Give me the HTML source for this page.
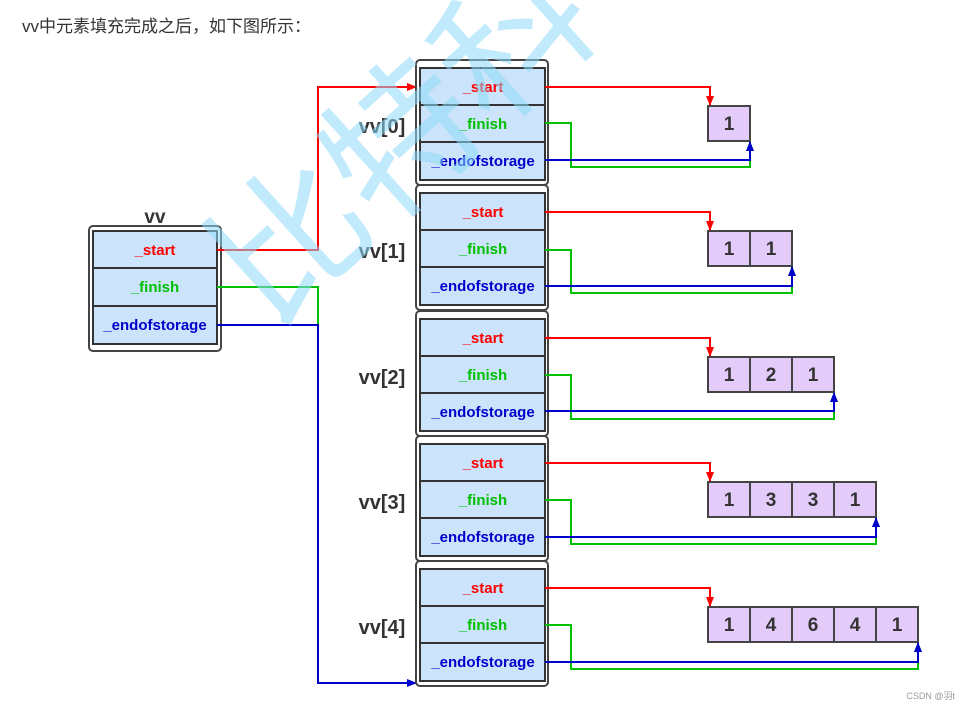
<!DOCTYPE html>
<html><head><meta charset="utf-8"><style>
body{margin:0;background:#fff;width:968px;height:709px;overflow:hidden}
svg{display:block}
text{font-family:"Liberation Sans",sans-serif}
</style></head><body>
<svg width="968" height="709" xmlns="http://www.w3.org/2000/svg">
<defs>
<marker id="ar" markerWidth="10" markerHeight="10" refX="9" refY="5" orient="auto" markerUnits="userSpaceOnUse"><path d="M0,1 L10,5 L0,9 Z" fill="#ff0000"/></marker>
<marker id="ab" markerWidth="10" markerHeight="10" refX="9" refY="5" orient="auto" markerUnits="userSpaceOnUse"><path d="M0,1 L10,5 L0,9 Z" fill="#0000cc"/></marker>
<marker id="ag" markerWidth="10" markerHeight="10" refX="9" refY="5" orient="auto" markerUnits="userSpaceOnUse"><path d="M0,1 L10,5 L0,9 Z" fill="#00c000"/></marker>
</defs>
<text x="22" y="32" font-size="17" fill="#333" style='font-family:"Liberation Sans","Noto Sans CJK SC",sans-serif'>vv中元素填充完成之后，如下图所示：</text>
<!-- vv -->
<text x="155" y="223" font-size="19" font-weight="bold" fill="#333" text-anchor="middle">vv</text>
<rect x="89" y="226" width="132" height="125" rx="4" fill="#fff" stroke="#444" stroke-width="2"/>
<g stroke="#333" stroke-width="2" fill="#cce4fb">
<rect x="93" y="231" width="124" height="37"/><rect x="93" y="268" width="124" height="38"/><rect x="93" y="306" width="124" height="38"/></g>
<g font-size="15" text-anchor="middle" font-weight="bold">
<text x="155" y="255" fill="#ff0000">_start</text>
<text x="155" y="292" fill="#00c000">_finish</text>
<text x="155" y="330" fill="#0000cc">_endofstorage</text></g>
<g fill="none" stroke-width="2">
<polyline points="217,287 318,287 318,683" stroke="#00c000"/>
<polyline points="217,250 318,250 318,87 416,87" stroke="#ff0000" marker-end="url(#ar)"/>
<polyline points="217,325 318,325 318,683 416,683" stroke="#0000cc" marker-end="url(#ab)"/>
</g>

<!-- boxes -->
<g stroke="#444" stroke-width="2" fill="#fff">
<rect x="416" y="60" width="132" height="125" rx="4"/>
<rect x="416" y="185" width="132" height="125" rx="4"/>
<rect x="416" y="311" width="132" height="125" rx="4"/>
<rect x="416" y="436" width="132" height="125" rx="4"/>
<rect x="416" y="561" width="132" height="125" rx="4"/>
</g>
<g stroke="#333" stroke-width="2" fill="#cce4fb">
<rect x="420" y="68" width="125" height="37"/><rect x="420" y="105" width="125" height="37"/><rect x="420" y="142" width="125" height="38"/>
<rect x="420" y="193" width="125" height="37"/><rect x="420" y="230" width="125" height="37"/><rect x="420" y="267" width="125" height="38"/>
<rect x="420" y="319" width="125" height="37"/><rect x="420" y="356" width="125" height="37"/><rect x="420" y="393" width="125" height="38"/>
<rect x="420" y="444" width="125" height="37"/><rect x="420" y="481" width="125" height="37"/><rect x="420" y="518" width="125" height="38"/>
<rect x="420" y="569" width="125" height="37"/><rect x="420" y="606" width="125" height="37"/><rect x="420" y="643" width="125" height="38"/>
</g>
<g font-size="15" text-anchor="middle" font-weight="bold">
<text x="483" y="92" fill="#ff0000">_start</text><text x="483" y="129" fill="#00c000">_finish</text><text x="483" y="166" fill="#0000cc">_endofstorage</text>
<text x="483" y="217" fill="#ff0000">_start</text><text x="483" y="254" fill="#00c000">_finish</text><text x="483" y="291" fill="#0000cc">_endofstorage</text>
<text x="483" y="343" fill="#ff0000">_start</text><text x="483" y="380" fill="#00c000">_finish</text><text x="483" y="417" fill="#0000cc">_endofstorage</text>
<text x="483" y="468" fill="#ff0000">_start</text><text x="483" y="505" fill="#00c000">_finish</text><text x="483" y="542" fill="#0000cc">_endofstorage</text>
<text x="483" y="593" fill="#ff0000">_start</text><text x="483" y="630" fill="#00c000">_finish</text><text x="483" y="667" fill="#0000cc">_endofstorage</text>
</g>
<g font-size="20" font-weight="bold" fill="#333" text-anchor="middle">
<text x="382" y="133">vv[0]</text><text x="382" y="258">vv[1]</text><text x="382" y="384">vv[2]</text><text x="382" y="509">vv[3]</text><text x="382" y="634">vv[4]</text>
</g>

<!-- arrays -->
<g fill="#e3ccfa" stroke="#444" stroke-width="2">
<rect x="708" y="106" width="42" height="35"/>
<rect x="708" y="231" width="42" height="35"/><rect x="750" y="231" width="42" height="35"/>
<rect x="708" y="357" width="42" height="35"/><rect x="750" y="357" width="42" height="35"/><rect x="792" y="357" width="42" height="35"/>
<rect x="708" y="482" width="42" height="35"/><rect x="750" y="482" width="42" height="35"/><rect x="792" y="482" width="42" height="35"/><rect x="834" y="482" width="42" height="35"/>
<rect x="708" y="607" width="42" height="35"/><rect x="750" y="607" width="42" height="35"/><rect x="792" y="607" width="42" height="35"/><rect x="834" y="607" width="42" height="35"/><rect x="876" y="607" width="42" height="35"/>
</g>
<g font-size="19" font-weight="bold" fill="#333" text-anchor="middle">
<text x="729" y="130">1</text>
<text x="729" y="255">1</text><text x="771" y="255">1</text>
<text x="729" y="381">1</text><text x="771" y="381">2</text><text x="813" y="381">1</text>
<text x="729" y="506">1</text><text x="771" y="506">3</text><text x="813" y="506">3</text><text x="855" y="506">1</text>
<text x="729" y="631">1</text><text x="771" y="631">4</text><text x="813" y="631">6</text><text x="855" y="631">4</text><text x="897" y="631">1</text>
</g>

<!-- connectors -->
<g fill="none" stroke-width="2">
<polyline points="545,87 710,87 710,105" stroke="#ff0000" marker-end="url(#ar)"/>
<polyline points="545,123 571,123 571,167 750,167 750,142" stroke="#00c000" marker-end="url(#ag)"/>
<polyline points="545,160 750,160 750,142" stroke="#0000cc" marker-end="url(#ab)"/>

<polyline points="545,212 710,212 710,230" stroke="#ff0000" marker-end="url(#ar)"/>
<polyline points="545,250 571,250 571,293 792,293 792,267" stroke="#00c000" marker-end="url(#ag)"/>
<polyline points="545,286 792,286 792,267" stroke="#0000cc" marker-end="url(#ab)"/>

<polyline points="545,338 710,338 710,356" stroke="#ff0000" marker-end="url(#ar)"/>
<polyline points="545,375 571,375 571,419 834,419 834,393" stroke="#00c000" marker-end="url(#ag)"/>
<polyline points="545,411 834,411 834,393" stroke="#0000cc" marker-end="url(#ab)"/>

<polyline points="545,463 710,463 710,481" stroke="#ff0000" marker-end="url(#ar)"/>
<polyline points="545,500 571,500 571,544 876,544 876,518" stroke="#00c000" marker-end="url(#ag)"/>
<polyline points="545,537 876,537 876,518" stroke="#0000cc" marker-end="url(#ab)"/>

<polyline points="545,588 710,588 710,606" stroke="#ff0000" marker-end="url(#ar)"/>
<polyline points="545,625 571,625 571,669 918,669 918,643" stroke="#00c000" marker-end="url(#ag)"/>
<polyline points="545,662 918,662 918,643" stroke="#0000cc" marker-end="url(#ab)"/>
</g>

<text x="270" y="330" transform="rotate(-42 270 330)" font-size="150" fill="#8fdcfa" opacity="0.55" style='font-family:"Noto Sans CJK SC",sans-serif'>比特科</text>

<text x="955" y="699" font-size="9" fill="#999" text-anchor="end" style='font-family:"Liberation Sans","Noto Sans CJK SC",sans-serif'>CSDN @羽t</text>
</svg>
</body></html>
